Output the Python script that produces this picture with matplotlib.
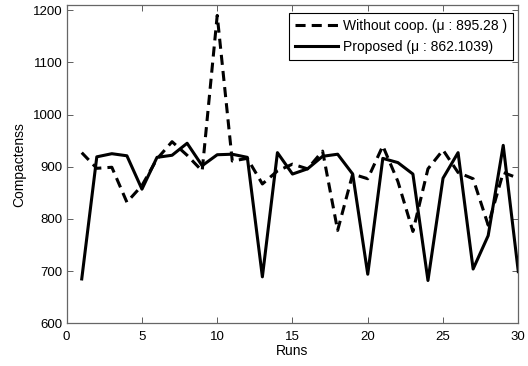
import matplotlib
matplotlib.use("Agg")
import matplotlib.pyplot as plt
import numpy as np

runs = np.arange(1, 31)
without_coop = [927, 897, 899, 832, 864, 915, 948, 922, 892, 1190,
                911, 916, 867, 892, 905, 896, 930, 778, 886, 877,
                940, 872, 776, 896, 932, 889, 877, 788, 889, 878]
proposed = [685, 919, 925, 921, 857, 918, 922, 945, 902, 923,
            924, 918, 689, 927, 886, 896, 920, 924, 886, 694,
            916, 908, 886, 682, 878, 927, 704, 768, 941, 699]

plt.rcParams['font.family'] = ['Liberation Sans', 'DejaVu Sans']

fig = plt.figure(figsize=(5.28, 3.66), dpi=100)
ax = fig.add_axes([0.1263, 0.1167, 0.8553, 0.8697])

ax.plot(runs, without_coop, 'k--', linewidth=2.2, dashes=(3.3, 2.0),
        label='Without coop. (\u03bc : 895.28 )')
ax.plot(runs, proposed, 'k-', linewidth=2.2,
        label='Proposed (\u03bc : 862.1039)')

ax.set_xlim(0, 30)
ax.set_ylim(600, 1210)
ax.set_xticks(np.arange(0, 31, 5))
ax.set_yticks(np.arange(600, 1201, 100))
ax.tick_params(direction='in', top=True, right=True, labelsize=9.5,
               length=4, width=0.6, color='#444444')
ax.tick_params(axis='x', pad=5.5)
ax.tick_params(axis='y', pad=3)
for s in ax.spines.values():
    s.set_color('#666666')
    s.set_linewidth(0.9)

ax.set_xlabel('Runs', fontsize=10, labelpad=1)
ax.set_ylabel('Compactenss', fontsize=10, labelpad=5)

leg = ax.legend(loc='upper right', bbox_to_anchor=(513 / 528, 1 - 13 / 366),
                bbox_transform=fig.transFigure, borderaxespad=0,
                fontsize=10, fancybox=False, edgecolor='black', framealpha=1,
                handlelength=3.1, handletextpad=0.3, labelspacing=0.45,
                borderpad=0.45)
leg.get_frame().set_linewidth(0.8)

fig.savefig('out.png', dpi=100)
